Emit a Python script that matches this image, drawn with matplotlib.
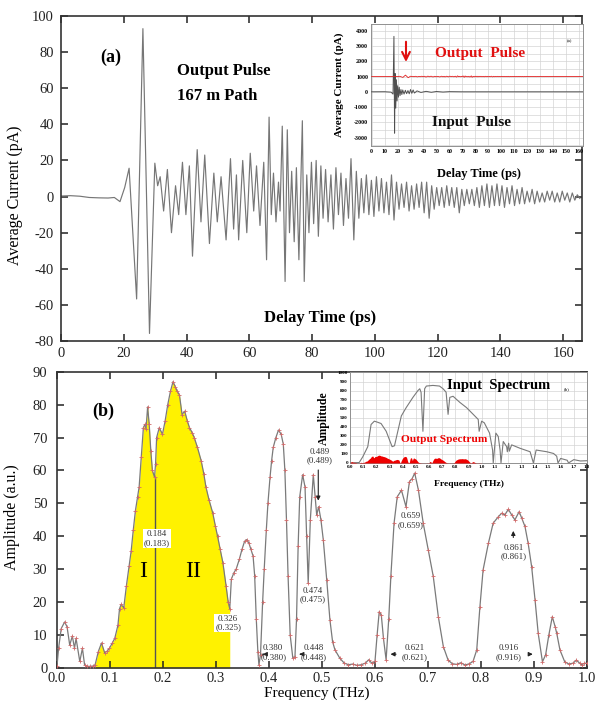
import matplotlib
matplotlib.use("Agg")
import matplotlib.pyplot as plt
from matplotlib.ticker import MultipleLocator
import numpy as np

plt.rcParams['font.family'] = ['Liberation Serif', 'DejaVu Serif']
plt.rcParams['axes.unicode_minus'] = False

# ---------------- output pulse after 167 m path: turning points (ps, pA)
pulse_t = [0, 3, 6, 9, 12, 15, 17, 18.8, 20.3, 21.7, 24.1, 26.1, 28.2, 29.9, 30.8, 31.6,
           32.7, 33.9, 35.2, 36.5, 37.5, 38.7, 39.8, 40.9, 41.9, 43.4, 44.6, 45.8, 47.3,
           48.7, 49.8, 51.0, 52.6, 54.0, 55.0, 55.9, 56.6, 57.9, 59.2, 60.3, 61.4, 62.3,
           63.4, 64.6, 65.5, 66.3, 67.0, 67.7, 68.5, 69.3, 69.8, 70.5, 71.4, 72.1, 72.8,
           73.5, 74.3, 75.0, 75.8, 76.9, 77.5, 78.3, 79.0, 79.8, 80.5, 81.3, 82.0, 82.8,
           83.5, 84.3, 85.1, 86.0, 86.8, 87.6, 88.4, 89.2, 90.0, 90.8, 91.6, 92.4, 93.3,
           94.1, 94.9, 95.7, 96.5, 97.3, 98.1, 98.9, 99.7, 100.5, 101.3, 102.1, 102.9,
           103.7, 104.5, 105.3, 106.1, 106.9, 107.7, 108.5, 109.3, 110.1, 110.9, 111.7,
           112.5, 113.3, 114.1, 114.9, 115.7, 116.5, 117.3, 118.1, 118.9, 119.7, 120.5,
           121.3, 122.1, 122.9, 123.7, 124.5, 125.3, 126.1, 126.9, 127.7, 128.5, 129.3,
           130.1, 130.9, 131.7, 132.5, 133.3, 134.1, 134.9, 135.7, 136.5, 137.3, 138.1,
           138.9, 139.7, 140.5, 141.3, 142.1, 142.9, 143.7, 144.5, 145.3, 146.1, 146.9,
           147.7, 148.5, 149.3, 150.1, 150.9, 151.7, 152.5, 153.3, 154.1, 154.9, 155.7,
           156.5, 157.3, 158.1, 158.9, 159.7, 160.5, 161.3, 162.1, 162.9, 163.7, 164.5, 165.3]
pulse_i = [0.3, 0.5, 0.2, -0.5, -0.7, -0.8, -0.5, -2.8, 5, 15.7, -56.7, 93, -75.8, 18.5, 6, 11,
           -8, 15, -20, 6, -10, 19, -10, 17, -33, 26, -14, 23, -26,
           13, -14, 11, -24, 21, -18, 12, -24, 20, -20, 24, -8, 17,
           -16, 19, -35, 44, -10, 13, -14, 8, -8, 39, -47, 37, -20,
           14, -25, 16, -35, 42, -47, 12, -20, 19, -15, 20, -22, 17,
           -12, 15, -14, 12, -18, 16, -10, 13, -16, 10, -12, 21, -24,
           14, -12, 10, -9, 12, -10, 9, -11, 11, -8, 10, -9,
           8, -10, 12, -13, 8, -7, 7, -6, 8, -8, 6,
           -7, 7, -6, 8, -9, 8, -12, 6, -7, 5, -5,
           5, -6, 6, -5, 5, -6, 5, -9, 4, -5, 4,
           -4, 4, -5, 5, -6, 6, -5, 7, -6, 6, -5,
           7, -5, 6, -6, 5, -4, 6, -5, 4, -4, 5,
           -4, 3, -3, 4, -4, 3, -3, 2, -3, 3, -2,
           3, -3, 2, -3, 3, -2, 2, -3, 2, -2, 1, -1]

# ---------------- input pulse (inset), turning points (ps, pA)
inpulse_t = [0, 10, 15, 16.5, 17.2, 17.7, 18.1, 18.6, 19.1, 19.6, 20.1, 20.7, 21.3, 21.9,
             22.6, 23.3, 24.0, 25.0, 26.0, 27.0, 28.0, 29.0, 30.0, 31.0, 32.0, 33.0, 35.0,
             38.0, 42.0, 46.0, 50.0, 55.0, 60.0, 70.0, 80.0, 100.0, 163.0]
inpulse_i = [0, 5, -20, -150, 3630, -2710, 1200, -1070, 790, -600, 400, -350, 300, -250,
             150, -180, 120, -150, 100, -120, 80, -130, 150, -100, 120, -80, 60,
             -40, 30, -30, 20, -15, 10, 0, 0, 0, 0]

# ---------------- output amplitude spectrum (THz, a.u.)
freq = [0.000, 0.003, 0.008, 0.0145, 0.019, 0.024, 0.029, 0.033, 0.036, 0.043, 0.048, 0.052,
        0.056, 0.062, 0.068, 0.072, 0.078, 0.084, 0.090, 0.095, 0.099, 0.104, 0.109, 0.115,
        0.118, 0.121, 0.126, 0.131, 0.136, 0.140, 0.144, 0.148, 0.152, 0.155, 0.159, 0.163,
        0.166, 0.168, 0.171, 0.174, 0.177, 0.180, 0.184, 0.186, 0.188, 0.193, 0.199, 0.204,
        0.209, 0.214, 0.219, 0.223, 0.227, 0.231, 0.236, 0.241, 0.246, 0.250, 0.255, 0.259,
        0.265, 0.272, 0.277, 0.281, 0.287, 0.294, 0.299, 0.303, 0.308, 0.313, 0.319, 0.323,
        0.326, 0.329, 0.334, 0.338, 0.344, 0.349, 0.354, 0.358, 0.362, 0.366, 0.370, 0.373,
        0.376, 0.379, 0.381, 0.384, 0.388, 0.391, 0.395, 0.398, 0.402, 0.405, 0.408, 0.413,
        0.418, 0.423, 0.427, 0.430, 0.433, 0.436, 0.440, 0.445, 0.449, 0.452, 0.455, 0.458,
        0.4635, 0.468, 0.471, 0.474, 0.478, 0.4836, 0.487, 0.490, 0.4937, 0.498, 0.5025,
        0.509, 0.515, 0.520, 0.5245, 0.534, 0.542, 0.550, 0.558, 0.566, 0.574, 0.582, 0.588,
        0.594, 0.600, 0.604, 0.608, 0.612, 0.616, 0.621, 0.626, 0.630, 0.636, 0.642, 0.650,
        0.6585, 0.665, 0.670, 0.675, 0.682, 0.691, 0.7006, 0.710, 0.7195, 0.729, 0.738,
        0.746, 0.754, 0.762, 0.770, 0.778, 0.785, 0.792, 0.798, 0.804, 0.814, 0.823, 0.833,
        0.839, 0.845, 0.8516, 0.858, 0.864, 0.872, 0.877, 0.883, 0.889, 0.8956, 0.902,
        0.908, 0.916, 0.922, 0.928, 0.9346, 0.940, 0.943, 0.949, 0.958, 0.966, 0.974, 0.980,
        0.986, 0.990, 0.995, 1.000]
amp = [0.5, 6, 12, 14, 12.5, 7, 9.7, 6, 9, 2, 6, 1,
       0.5, 0.5, 0.6, 1, 5, 7.6, 4.6, 5.2, 6, 7.5, 9, 13,
       18, 19.3, 18.3, 25, 31, 35.6, 42, 47.8, 52, 55, 64, 73,
       74, 72.7, 79.3, 74, 66, 60, 58, 62, 70, 73, 71, 75,
       80, 84, 87, 85.5, 84, 83, 77, 78, 75, 73, 71.5, 70,
       67, 63, 59, 55, 51, 47, 43, 40, 36, 32, 25, 20,
       18, 27, 29, 30, 33, 36, 38.5, 39, 38, 36, 34, 28,
       15, 5, 1, 4, 20, 30, 42, 50, 58, 63, 67, 70,
       72.3, 71, 68, 60, 45, 28, 10, 3, 3.4, 15, 37, 52,
       58.7, 55, 40, 25.7, 45, 58.7, 52, 46.5, 49, 45, 38.9,
       26.7, 14.6, 8, 5.5, 2.9, 1.5, 1, 1.2, 0.8, 1, 1.5, 2.5,
       1.5, 2, 10, 17.1, 16, 9, 2.5, 15, 28, 44, 52, 54,
       49, 56.6, 57.5, 59.2, 54, 44, 35.9, 27.8, 15.6, 6.5, 2.4,
       1.3, 1.1, 1.6, 0.9, 1.3, 2.0, 5.5, 18.6, 29.8, 37.9, 44, 46,
       47, 46.5, 48.2, 46.5, 45, 47.5, 45.5, 43, 37.9, 30.8, 20.7,
       10.5, 1.9, 4, 10, 15.6, 12.5, 10.5, 5.5, 1.9, 1.2, 1.5, 2.4,
       1.5, 1, 1.4, 1.5]

# band limits of the shaded area and the divider between bands I and II
band_lo, band_div, band_hi = 0.072, 0.184, 0.326

# ---------------- input amplitude spectrum (inset), (THz, a.u.)
in_freq = [0.0, 0.07, 0.097, 0.135, 0.16, 0.185, 0.21, 0.236, 0.275, 0.30, 0.32, 0.338,
           0.36, 0.39, 0.427, 0.478, 0.516, 0.53, 0.54, 0.554, 0.567, 0.58, 0.63, 0.68,
           0.707, 0.73, 0.745, 0.758, 0.783, 0.834, 0.885, 0.936, 0.974, 0.981, 1.0, 1.02,
           1.06, 1.083, 1.088, 1.108, 1.126, 1.14, 1.147, 1.164, 1.19, 1.195, 1.205, 1.21,
           1.228, 1.292, 1.368, 1.393, 1.414, 1.495, 1.546, 1.57, 1.58, 1.60, 1.65, 1.66,
           1.70, 1.75, 1.80]
in_amp = [0, 5, 68, 180, 425, 462, 450, 436, 350, 255, 180, 190,
          330, 520, 612, 725, 800, 820, 780, 350, 820, 850, 857, 850,
          820, 782, 537, 725, 737, 670, 612, 537, 481, 350, 462, 444,
          330, 143, 0, 330, 293, 143, 0, 237, 180, 124, 218, 130,
          200, 162, 124, 0, 143, 124, 105, 75, 0, 50, 30, 0,
          37, 22, 25]

SERIF_BOLD = dict(fontweight='bold')

fig = plt.figure(figsize=(6.05, 7.02), dpi=100)


def style_main(ax):
    for s in ax.spines.values():
        s.set_linewidth(1.2)
        s.set_color('#333333')
    ax.tick_params(direction='in', top=True, right=True, length=5, width=1.1,
                   labelsize=10.5, colors='#222222')


# ================= panel (a)
ax_a = fig.add_axes([0.1008, 0.5142, 0.8612, 0.463])
ax_a.plot(pulse_t, pulse_i, color='#767676', lw=0.85)
ax_a.set_xlim(0, 166)
ax_a.set_ylim(-80, 100)
ax_a.xaxis.set_major_locator(MultipleLocator(20))
ax_a.yaxis.set_major_locator(MultipleLocator(20))
style_main(ax_a)
ax_a.tick_params(axis='x', pad=4)
ax_a.tick_params(axis='y', pad=5)
ax_a.set_ylabel('Average Current (pA)', fontsize=11.5)
ax_a.yaxis.set_label_coords(-0.072, 0.45)
ax_a.text(12.4, 77.3, '(a)', fontsize=13, va='center', **SERIF_BOLD)
ax_a.text(37, 69.5, 'Output Pulse', fontsize=12, va='center', **SERIF_BOLD)
ax_a.text(37, 55.7, '167 m Path', fontsize=12, va='center', **SERIF_BOLD)
ax_a.text(82.5, -67.5, 'Delay Time (ps)', fontsize=12, ha='center', va='center', **SERIF_BOLD)

# inset of panel (a): input and output pulses
ia = fig.add_axes([0.6132, 0.792, 0.3504, 0.1738])
ia.set_facecolor('white')
ia.plot(inpulse_t, inpulse_i, color='#505050', lw=0.7, zorder=3)
ia.plot(pulse_t, np.asarray(pulse_i) + 1000, color='#e02020', lw=0.6, zorder=3)
ia.set_xlim(-0.5, 163)
ia.set_ylim(-3550, 4440)
ia.xaxis.set_major_locator(MultipleLocator(10))
ia.yaxis.set_major_locator(MultipleLocator(1000))
ia.yaxis.set_minor_locator(MultipleLocator(500))
ia.grid(which='both', color='#d4d4d4', lw=0.5)
ia.set_axisbelow(True)
for s in ia.spines.values():
    s.set_linewidth(0.7)
    s.set_color('#909090')
ia.tick_params(which='both', length=0, labelsize=4.3, pad=2)
for lab in ia.get_xticklabels() + ia.get_yticklabels():
    lab.set_fontweight('bold')
ia.set_xlabel('Delay Time (ps)', fontsize=9, fontweight='bold', labelpad=2)
ia.xaxis.set_label_coords(0.51, -0.18)
ia.set_ylabel('Average Current (pA)', fontsize=8, fontweight='bold')
ia.yaxis.set_label_coords(-0.128, 0.5)
ia.annotate('', xy=(26.5, 1770), xytext=(26.5, 3460),
            arrowprops=dict(arrowstyle='->', color='#e01010', lw=1.5, mutation_scale=14))
ia.text(83.7, 2540, 'Output  Pulse', color='#e01010', fontsize=11, ha='center', va='center',
        **SERIF_BOLD)
ia.text(77.4, -2010, 'Input  Pulse', color='#111111', fontsize=11, ha='center', va='center',
        **SERIF_BOLD)
ia.text(152.4, 3330, '(a)', fontsize=3.5, ha='center', va='center')

# ================= panel (b)
ax_b = fig.add_axes([0.0942, 0.0484, 0.876, 0.4221])
f_arr = np.asarray(freq)
a_arr = np.asarray(amp)
band = (f_arr >= band_lo) & (f_arr <= band_hi)
ax_b.fill_between(f_arr[band], 0, a_arr[band], color='#fff200', lw=0, zorder=1)
div_h = np.interp(band_div, f_arr, a_arr)
ax_b.vlines(band_div, 0, div_h, color='#555555', lw=1.0, zorder=2)
ax_b.plot(freq, amp, color='#7a7a7a', lw=0.9, zorder=3,
          marker='+', ms=3, mec='#d06a6a', mew=0.6)
ax_b.set_xlim(0, 1.0)
ax_b.set_ylim(0, 90)
ax_b.xaxis.set_major_locator(MultipleLocator(0.1))
ax_b.yaxis.set_major_locator(MultipleLocator(10))
ax_b.xaxis.set_major_formatter(plt.FuncFormatter(lambda v, p: f'{v:.1f}'))
style_main(ax_b)
ax_b.tick_params(axis='x', pad=3)
ax_b.tick_params(axis='y', pad=7)
ax_b.set_ylabel('Amplitude (a.u.)', fontsize=11.5)
ax_b.yaxis.set_label_coords(-0.07, 0.51)
ax_b.set_xlabel('Frequency (THz)', fontsize=11)
ax_b.xaxis.set_label_coords(0.49, -0.064)
ax_b.text(0.066, 77.9, '(b)', fontsize=13, va='center', **SERIF_BOLD)
ax_b.text(0.162, 29.3, 'I', fontsize=17, ha='center', va='center', zorder=4)
ax_b.text(0.257, 29.3, 'II', fontsize=17, ha='center', va='center', zorder=4)

ann = dict(fontsize=6.5, ha='center', va='center', color='#333333', linespacing=1.1, zorder=5)
box = dict(boxstyle='square,pad=0.1', fc='white', ec='none')
ax_b.text(0.188, 39.3, '0.184\n(0.183)', bbox=box, **ann)
ax_b.text(0.323, 13.7, '0.326\n(0.325)', bbox=box, **ann)
ax_b.text(0.408, 4.7, '0.380\n(0.380)', **ann)
ax_b.text(0.484, 4.7, '0.448\n(0.448)', **ann)
ax_b.text(0.482, 22.2, '0.474\n(0.475)', **ann)
ax_b.text(0.496, 64.4, '0.489\n(0.489)', **ann)
ax_b.text(0.667, 44.8, '0.659\n(0.659)', **ann)
ax_b.text(0.675, 4.7, '0.621\n(0.621)', **ann)
ax_b.text(0.853, 4.7, '0.916\n(0.916)', **ann)
ax_b.text(0.861, 35.3, '0.861\n(0.861)', **ann)
arr = dict(arrowstyle='-|>', color='#222222', lw=0.8, mutation_scale=6)
ax_b.annotate('', xy=(0.383, 4.2), xytext=(0.394, 4.2), arrowprops=arr)
ax_b.annotate('', xy=(0.452, 4.2), xytext=(0.466, 4.2), arrowprops=arr)
ax_b.annotate('', xy=(0.493, 50), xytext=(0.493, 61), arrowprops=arr)
ax_b.annotate('', xy=(0.624, 4.2), xytext=(0.645, 4.2), arrowprops=arr)
ax_b.annotate('', xy=(0.903, 4.2), xytext=(0.886, 4.2), arrowprops=arr)
ax_b.annotate('', xy=(0.861, 42.5), xytext=(0.861, 38.8), arrowprops=arr)

# inset of panel (b): input spectrum with the output spectrum
ib = fig.add_axes([0.5785, 0.3405, 0.3917, 0.1289])
ib.set_facecolor('white')
ib.plot(in_freq, in_amp, color='#7a7a7a', lw=0.8, zorder=3)
ib.fill_between(freq, 0, amp, color='#ee0000', lw=0, zorder=3)
ib.set_xlim(0, 1.8)
ib.set_ylim(0, 1000)
ib.xaxis.set_major_locator(MultipleLocator(0.1))
ib.yaxis.set_major_locator(MultipleLocator(100))
ib.xaxis.set_major_formatter(plt.FuncFormatter(lambda v, p: f'{v:.1f}'))
ib.grid(color='#d4d4d4', lw=0.5)
ib.set_axisbelow(True)
for s in ib.spines.values():
    s.set_linewidth(0.7)
    s.set_color('#909090')
ib.tick_params(length=0, labelsize=3.6, pad=1.5)
for lab in ib.get_xticklabels() + ib.get_yticklabels():
    lab.set_fontweight('bold')
ib.set_xlabel('Frequency (THz)', fontsize=6.8, fontweight='bold')
ib.xaxis.set_label_coords(0.502, -0.19)
ib.set_ylabel('Amplitude', fontsize=8.5, fontweight='bold')
ib.yaxis.set_label_coords(-0.085, 0.5)
ib.text(1.128, 859, 'Input  Spectrum', fontsize=10.5, ha='center', va='center', **SERIF_BOLD)
ib.text(1.648, 819, '(b)', fontsize=3.5, ha='center', va='center')
ib.text(0.715, 263, 'Output Spectrum', color='#ee0000', fontsize=8.2, ha='center',
        va='center', **SERIF_BOLD)

fig.savefig('out.png', dpi=100)
